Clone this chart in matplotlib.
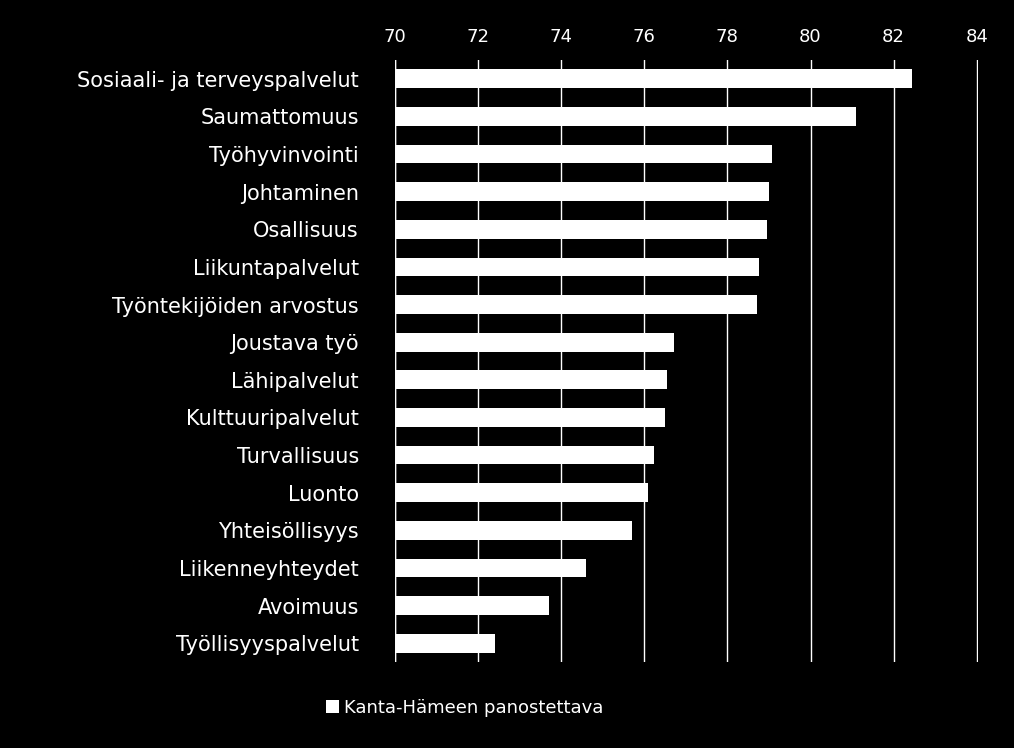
import matplotlib
matplotlib.use("Agg")
import matplotlib.pyplot as plt
import matplotlib.patches as mpatches

categories = ["Sosiaali- ja terveyspalvelut", "Saumattomuus", "Työhyvinvointi",
              "Johtaminen", "Osallisuus", "Liikuntapalvelut", "Työntekijöiden arvostus",
              "Joustava työ", "Lähipalvelut", "Kulttuuripalvelut", "Turvallisuus",
              "Luonto", "Yhteisöllisyys", "Liikenneyhteydet", "Avoimuus",
              "Työllisyyspalvelut"]
values = [82.45, 81.1, 79.08, 79.0, 78.96, 78.77, 78.7, 76.72, 76.55, 76.5,
          76.24, 76.1, 75.7, 74.6, 73.7, 72.4]
series_name = "Kanta-Hämeen panostettava"
xticks = [70, 72, 74, 76, 78, 80, 82, 84]

fig = plt.figure(figsize=(10.14, 7.48), dpi=100, facecolor="black")
ax = fig.add_axes([395 / 1014, 1 - 662 / 748, 583 / 1014, 602 / 748])
ax.set_facecolor("black")

ypos = list(range(len(categories)))
ax.barh(ypos, [v - 70 for v in values], left=70, height=0.5,
        color="white", zorder=3)
ax.set_ylim(len(categories) - 0.5, -0.5)
ax.set_xlim(70, 84.03)
ax.set_yticks(ypos)
ax.set_yticklabels(categories, fontsize=15, color="white")
ax.xaxis.tick_top()
ax.set_xticks(xticks)
ax.set_xticklabels([str(t) for t in xticks], fontsize=13, color="white")
ax.tick_params(axis="y", length=0, pad=26)
ax.tick_params(axis="x", length=0, pad=10)
ax.grid(axis="x", color="white", linewidth=1, zorder=0)
for s in ax.spines.values():
    s.set_visible(False)
ax.axvline(70, color="white", linewidth=1, zorder=4)

handle = mpatches.Patch(facecolor="white", label=series_name)
fig.legend(handles=[handle], loc="center", bbox_to_anchor=(465 / 1014, 1 - 708 / 748),
           frameon=False, fontsize=13, labelcolor="white",
           handlelength=0.7, handleheight=0.7, handletextpad=0.3)

fig.savefig("out.png", dpi=100, facecolor="black")
